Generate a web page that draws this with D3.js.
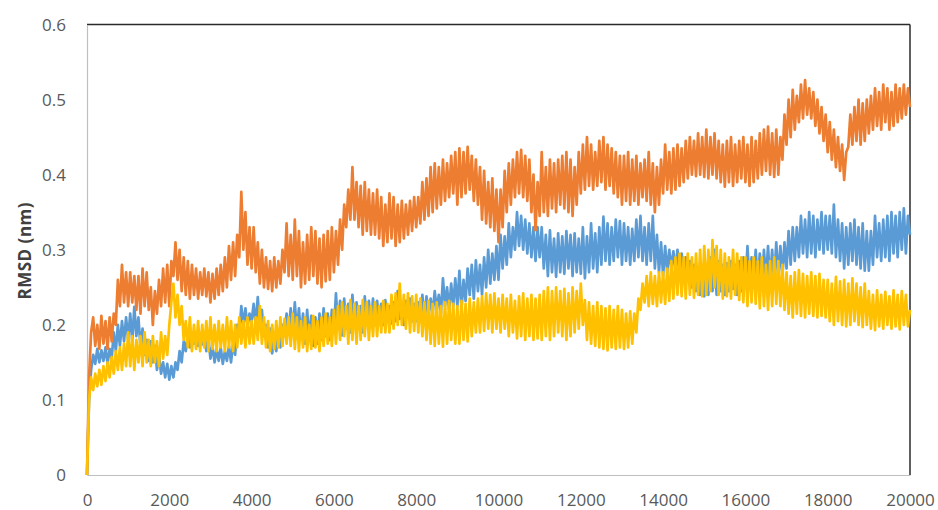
<!DOCTYPE html>
<html>
<head>
<meta charset="utf-8">
<script src="https://cdn.jsdelivr.net/npm/d3@7"></script>
<style>
  html, body { margin: 0; padding: 0; background: #ffffff; }
  svg { display: block; }
</style>
</head>
<body>
<svg id="chart" width="938" height="510"></svg>
<script>
// ---- data ----
const xTicks = [0, 2000, 4000, 6000, 8000, 10000, 12000, 14000, 16000, 18000, 20000];
const yTicks = [0, 0.1, 0.2, 0.3, 0.4, 0.5, 0.6];
const yTickLabels = ["0", "0.1", "0.2", "0.3", "0.4", "0.5", "0.6"];
const yTitle = "RMSD (nm)";
// sampling grid of the time axis (one value every 50 steps)
const times = d3.range(0, 20001, 50);

const blueValues = [
  0, 0.1, 0.14, 0.16, 0.148, 0.168, 0.15, 0.166, 0.152, 0.17, 0.148, 0.168, 0.155, 0.19, 0.165, 0.2, 0.172, 0.205, 0.178, 0.21,
  0.18, 0.215, 0.178, 0.224, 0.185, 0.21, 0.17, 0.195, 0.16, 0.18, 0.152, 0.178, 0.15, 0.172, 0.14, 0.16, 0.135, 0.15, 0.13, 0.148,
  0.127, 0.145, 0.13, 0.15, 0.14, 0.165, 0.15, 0.178, 0.165, 0.188, 0.17, 0.19, 0.175, 0.19, 0.172, 0.188, 0.174, 0.19, 0.165, 0.182,
  0.155, 0.172, 0.15, 0.168, 0.152, 0.17, 0.148, 0.165, 0.152, 0.172, 0.15, 0.175, 0.16, 0.2, 0.185, 0.225, 0.2, 0.222, 0.198, 0.215,
  0.205, 0.228, 0.2, 0.237, 0.198, 0.22, 0.185, 0.2, 0.17, 0.195, 0.162, 0.185, 0.165, 0.19, 0.17, 0.2, 0.185, 0.215, 0.19, 0.222,
  0.188, 0.23, 0.19, 0.222, 0.182, 0.215, 0.175, 0.22, 0.18, 0.212, 0.172, 0.21, 0.175, 0.215, 0.18, 0.222, 0.185, 0.215, 0.18, 0.22,
  0.19, 0.242, 0.195, 0.232, 0.186, 0.235, 0.195, 0.228, 0.19, 0.24, 0.2, 0.23, 0.195, 0.225, 0.19, 0.238, 0.2, 0.232, 0.198, 0.235,
  0.2, 0.232, 0.205, 0.228, 0.2, 0.233, 0.208, 0.225, 0.202, 0.23, 0.205, 0.245, 0.208, 0.228, 0.2, 0.232, 0.21, 0.235, 0.205, 0.228,
  0.205, 0.23, 0.21, 0.24, 0.206, 0.238, 0.212, 0.235, 0.215, 0.245, 0.22, 0.24, 0.215, 0.262, 0.225, 0.25, 0.22, 0.255, 0.225, 0.262,
  0.225, 0.272, 0.22, 0.26, 0.232, 0.275, 0.24, 0.28, 0.235, 0.286, 0.245, 0.28, 0.24, 0.29, 0.25, 0.3, 0.255, 0.295, 0.26, 0.305,
  0.26, 0.32, 0.275, 0.318, 0.28, 0.335, 0.29, 0.33, 0.3, 0.35, 0.305, 0.345, 0.3, 0.34, 0.295, 0.335, 0.29, 0.33, 0.285, 0.33,
  0.29, 0.33, 0.275, 0.32, 0.265, 0.326, 0.27, 0.315, 0.264, 0.322, 0.27, 0.318, 0.268, 0.325, 0.275, 0.32, 0.265, 0.322, 0.27, 0.315,
  0.268, 0.33, 0.262, 0.318, 0.27, 0.335, 0.275, 0.322, 0.27, 0.33, 0.28, 0.344, 0.285, 0.335, 0.28, 0.33, 0.285, 0.34, 0.29, 0.338,
  0.28, 0.335, 0.285, 0.33, 0.28, 0.328, 0.285, 0.34, 0.29, 0.345, 0.285, 0.33, 0.28, 0.335, 0.285, 0.345, 0.275, 0.32, 0.27, 0.31,
  0.265, 0.305, 0.27, 0.3, 0.275, 0.298, 0.272, 0.3, 0.27, 0.295, 0.268, 0.29, 0.26, 0.285, 0.25, 0.28, 0.245, 0.275, 0.24, 0.27,
  0.238, 0.27, 0.24, 0.29, 0.245, 0.3, 0.24, 0.285, 0.245, 0.28, 0.24, 0.282, 0.245, 0.285, 0.248, 0.28, 0.24, 0.285, 0.245, 0.29,
  0.25, 0.305, 0.255, 0.29, 0.25, 0.3, 0.255, 0.295, 0.25, 0.3, 0.26, 0.305, 0.255, 0.3, 0.258, 0.31, 0.262, 0.305, 0.265, 0.31,
  0.275, 0.325, 0.28, 0.33, 0.285, 0.33, 0.29, 0.345, 0.295, 0.34, 0.29, 0.35, 0.295, 0.345, 0.29, 0.34, 0.3, 0.35, 0.295, 0.345,
  0.3, 0.345, 0.295, 0.36, 0.29, 0.34, 0.285, 0.335, 0.275, 0.33, 0.28, 0.335, 0.285, 0.34, 0.28, 0.33, 0.275, 0.335, 0.272, 0.325,
  0.272, 0.325, 0.28, 0.345, 0.29, 0.335, 0.285, 0.34, 0.29, 0.345, 0.285, 0.35, 0.295, 0.345, 0.29, 0.35, 0.3, 0.355, 0.295, 0.345,
  0.32
];

const orangeValues = [
  0, 0.13, 0.19, 0.21, 0.172, 0.2, 0.168, 0.212, 0.175, 0.205, 0.168, 0.21, 0.178, 0.215, 0.2, 0.26, 0.225, 0.28, 0.23, 0.27,
  0.225, 0.27, 0.23, 0.265, 0.22, 0.265, 0.215, 0.275, 0.225, 0.27, 0.22, 0.25, 0.2, 0.245, 0.215, 0.26, 0.225, 0.275, 0.23, 0.28,
  0.225, 0.285, 0.265, 0.31, 0.26, 0.3, 0.245, 0.29, 0.24, 0.285, 0.235, 0.28, 0.24, 0.275, 0.235, 0.27, 0.24, 0.275, 0.238, 0.27,
  0.23, 0.268, 0.235, 0.275, 0.24, 0.28, 0.245, 0.29, 0.25, 0.305, 0.26, 0.31, 0.265, 0.32, 0.29, 0.377, 0.3, 0.35, 0.28, 0.33,
  0.275, 0.33, 0.27, 0.31, 0.255, 0.3, 0.25, 0.29, 0.248, 0.285, 0.245, 0.29, 0.25, 0.285, 0.255, 0.3, 0.27, 0.335, 0.265, 0.32,
  0.26, 0.34, 0.265, 0.325, 0.25, 0.31, 0.255, 0.32, 0.26, 0.33, 0.265, 0.325, 0.255, 0.315, 0.25, 0.32, 0.258, 0.325, 0.26, 0.33,
  0.27, 0.325, 0.28, 0.34, 0.3, 0.36, 0.33, 0.38, 0.34, 0.41, 0.34, 0.39, 0.33, 0.385, 0.32, 0.39, 0.325, 0.38, 0.32, 0.375,
  0.32, 0.38, 0.315, 0.37, 0.305, 0.36, 0.31, 0.375, 0.315, 0.37, 0.305, 0.36, 0.31, 0.365, 0.315, 0.36, 0.32, 0.365, 0.325, 0.37,
  0.33, 0.37, 0.335, 0.39, 0.34, 0.395, 0.345, 0.41, 0.35, 0.415, 0.355, 0.41, 0.36, 0.42, 0.365, 0.415, 0.37, 0.425, 0.375, 0.43,
  0.36, 0.435, 0.37, 0.43, 0.375, 0.437, 0.38, 0.425, 0.365, 0.42, 0.36, 0.41, 0.34, 0.405, 0.335, 0.39, 0.33, 0.395, 0.325, 0.38,
  0.31, 0.38, 0.33, 0.405, 0.35, 0.415, 0.36, 0.42, 0.37, 0.43, 0.375, 0.433, 0.37, 0.425, 0.365, 0.42, 0.35, 0.4, 0.326, 0.39,
  0.345, 0.43, 0.35, 0.41, 0.345, 0.42, 0.355, 0.415, 0.35, 0.42, 0.36, 0.425, 0.355, 0.43, 0.35, 0.42, 0.345, 0.41, 0.36, 0.43,
  0.375, 0.44, 0.38, 0.45, 0.385, 0.44, 0.38, 0.43, 0.385, 0.445, 0.39, 0.45, 0.38, 0.44, 0.385, 0.435, 0.375, 0.43, 0.37, 0.425,
  0.36, 0.425, 0.365, 0.43, 0.36, 0.42, 0.365, 0.425, 0.36, 0.415, 0.37, 0.42, 0.365, 0.43, 0.36, 0.415, 0.35, 0.41, 0.36, 0.42,
  0.375, 0.44, 0.38, 0.43, 0.375, 0.435, 0.38, 0.44, 0.385, 0.435, 0.39, 0.445, 0.395, 0.45, 0.4, 0.445, 0.398, 0.455, 0.4, 0.45,
  0.397, 0.46, 0.395, 0.45, 0.4, 0.455, 0.395, 0.445, 0.39, 0.44, 0.384, 0.445, 0.39, 0.45, 0.385, 0.44, 0.39, 0.445, 0.395, 0.45,
  0.39, 0.44, 0.385, 0.45, 0.39, 0.445, 0.395, 0.455, 0.4, 0.46, 0.405, 0.464, 0.4, 0.455, 0.397, 0.46, 0.4, 0.45, 0.42, 0.48,
  0.44, 0.5, 0.45, 0.513, 0.46, 0.505, 0.47, 0.52, 0.475, 0.526, 0.48, 0.515, 0.475, 0.51, 0.465, 0.5, 0.455, 0.49, 0.445, 0.48,
  0.43, 0.47, 0.42, 0.46, 0.41, 0.45, 0.405, 0.44, 0.393, 0.43, 0.437, 0.48, 0.44, 0.49, 0.445, 0.5, 0.44, 0.495, 0.445, 0.5,
  0.455, 0.505, 0.46, 0.515, 0.465, 0.51, 0.46, 0.52, 0.47, 0.515, 0.46, 0.51, 0.465, 0.52, 0.47, 0.515, 0.475, 0.52, 0.48, 0.515,
  0.49
];

const yellowValues = [
  0, 0.1, 0.13, 0.113, 0.135, 0.118, 0.14, 0.12, 0.145, 0.125, 0.15, 0.13, 0.157, 0.135, 0.165, 0.14, 0.17, 0.14, 0.175, 0.145,
  0.19, 0.145, 0.185, 0.14, 0.18, 0.15, 0.185, 0.145, 0.19, 0.15, 0.18, 0.145, 0.185, 0.15, 0.178, 0.145, 0.19, 0.155, 0.185, 0.16,
  0.2, 0.23, 0.255, 0.21, 0.24, 0.2, 0.225, 0.18, 0.205, 0.17, 0.21, 0.165, 0.2, 0.168, 0.205, 0.165, 0.2, 0.17, 0.205, 0.165,
  0.21, 0.168, 0.2, 0.165, 0.205, 0.17, 0.2, 0.165, 0.21, 0.17, 0.205, 0.165, 0.2, 0.17, 0.21, 0.175, 0.205, 0.17, 0.21, 0.175,
  0.205, 0.175, 0.21, 0.18, 0.225, 0.175, 0.21, 0.17, 0.205, 0.165, 0.2, 0.168, 0.205, 0.17, 0.21, 0.172, 0.208, 0.175, 0.21, 0.172,
  0.215, 0.168, 0.21, 0.165, 0.205, 0.17, 0.21, 0.165, 0.2, 0.168, 0.212, 0.17, 0.205, 0.165, 0.21, 0.172, 0.215, 0.175, 0.21, 0.172,
  0.22, 0.175, 0.225, 0.18, 0.23, 0.185, 0.225, 0.175, 0.233, 0.18, 0.228, 0.175, 0.225, 0.18, 0.233, 0.185, 0.23, 0.18, 0.225, 0.185,
  0.23, 0.185, 0.225, 0.19, 0.232, 0.19, 0.228, 0.19, 0.24, 0.195, 0.242, 0.2, 0.255, 0.2, 0.24, 0.195, 0.242, 0.19, 0.238, 0.192,
  0.24, 0.19, 0.235, 0.185, 0.23, 0.18, 0.232, 0.175, 0.228, 0.172, 0.23, 0.175, 0.225, 0.171, 0.23, 0.175, 0.232, 0.18, 0.228, 0.175,
  0.225, 0.175, 0.232, 0.18, 0.228, 0.178, 0.235, 0.185, 0.23, 0.19, 0.235, 0.19, 0.238, 0.192, 0.242, 0.195, 0.24, 0.19, 0.242, 0.195,
  0.235, 0.19, 0.24, 0.195, 0.235, 0.185, 0.24, 0.19, 0.232, 0.182, 0.238, 0.185, 0.242, 0.18, 0.235, 0.185, 0.24, 0.18, 0.235, 0.182,
  0.24, 0.18, 0.245, 0.185, 0.25, 0.18, 0.245, 0.185, 0.25, 0.19, 0.245, 0.185, 0.248, 0.18, 0.242, 0.185, 0.25, 0.19, 0.245, 0.195,
  0.255, 0.2, 0.233, 0.18, 0.23, 0.175, 0.225, 0.172, 0.23, 0.17, 0.225, 0.168, 0.222, 0.166, 0.225, 0.17, 0.22, 0.168, 0.225, 0.17,
  0.22, 0.168, 0.215, 0.17, 0.218, 0.175, 0.215, 0.19, 0.235, 0.22, 0.255, 0.23, 0.265, 0.225, 0.27, 0.228, 0.265, 0.225, 0.27, 0.23,
  0.27, 0.228, 0.275, 0.232, 0.285, 0.235, 0.29, 0.24, 0.295, 0.238, 0.29, 0.235, 0.295, 0.24, 0.29, 0.236, 0.295, 0.24, 0.3, 0.238,
  0.305, 0.24, 0.3, 0.245, 0.313, 0.25, 0.305, 0.24, 0.3, 0.235, 0.295, 0.238, 0.29, 0.235, 0.3, 0.24, 0.295, 0.233, 0.29, 0.23,
  0.29, 0.225, 0.285, 0.23, 0.29, 0.228, 0.285, 0.222, 0.29, 0.225, 0.28, 0.22, 0.285, 0.225, 0.29, 0.228, 0.285, 0.225, 0.28, 0.22,
  0.27, 0.215, 0.265, 0.21, 0.27, 0.215, 0.273, 0.212, 0.268, 0.21, 0.265, 0.215, 0.27, 0.212, 0.265, 0.21, 0.268, 0.212, 0.26, 0.21,
  0.26, 0.205, 0.255, 0.2, 0.264, 0.205, 0.258, 0.2, 0.26, 0.198, 0.255, 0.2, 0.262, 0.205, 0.255, 0.2, 0.25, 0.197, 0.255, 0.2,
  0.245, 0.195, 0.24, 0.193, 0.246, 0.198, 0.24, 0.195, 0.244, 0.2, 0.238, 0.195, 0.246, 0.198, 0.24, 0.194, 0.245, 0.2, 0.24, 0.198,
  0.22
];

const seriesColors = ["#5B9BD5", "#ED7D31", "#FFC000"];

// ---- layout ----
const W = 938, H = 510;
const margin = { left: 87, top: 24.5, right: 28, bottom: 35 };
const svg = d3.select("#chart");

const x = d3.scaleLinear().domain([0, 20000]).range([margin.left, W - margin.right]);
const y = d3.scaleLinear().domain([0, 0.6]).range([H - margin.bottom, margin.top]);

const series = [blueValues, orangeValues, yellowValues].map((vals, i) => ({
  color: seriesColors[i],
  points: times.map((t, j) => ({ t: t, v: vals[j] })).filter(p => p.v !== undefined)
}));

// plot frame: top & right dark, left & bottom light grey
svg.append("line")
  .attr("x1", x(0)).attr("x2", x(20000)).attr("y1", y(0.6)).attr("y2", y(0.6))
  .attr("stroke", "#2b2b2b").attr("stroke-width", 1.5);
svg.append("line")
  .attr("x1", x(20000)).attr("x2", x(20000)).attr("y1", y(0.6)).attr("y2", y(0))
  .attr("stroke", "#2b2b2b").attr("stroke-width", 1.5);

// axes
const xAxis = d3.axisBottom(x).tickValues(xTicks).tickSize(0).tickFormat(d3.format("d"));
const yAxis = d3.axisLeft(y).tickValues(yTicks).tickSize(0).tickFormat((d, i) => yTickLabels[i]);

const gx = svg.append("g").attr("transform", `translate(0,${y(0)})`).call(xAxis);
const gy = svg.append("g").attr("transform", `translate(${x(0)},0)`).call(yAxis);

[gx, gy].forEach(g => {
  g.select(".domain").attr("stroke", "#bfbfbf").attr("stroke-width", 1.2);
  g.selectAll("text")
    .attr("fill", "#595959")
    .style("font-family", "'Open Sans', 'Liberation Sans', sans-serif")
    .style("font-size", "17px");
});
gx.selectAll("text").attr("dy", null).attr("y", 31);
gy.selectAll("text").attr("x", -21).attr("dy", "0.35em");

// y title
svg.append("text")
  .attr("transform", `translate(24,${(y(0) + y(0.6)) / 2 + 1}) rotate(-90)`)
  .attr("text-anchor", "middle")
  .attr("dominant-baseline", "central")
  .attr("fill", "#404040")
  .style("font-family", "'Open Sans', 'Liberation Sans', sans-serif")
  .style("font-weight", "bold")
  .style("font-size", "17px")
  .style("letter-spacing", "0.5px")
  .text(yTitle);

// series lines
const line = d3.line().x(d => x(d.t)).y(d => y(d.v));
svg.append("g").selectAll("path")
  .data(series)
  .join("path")
  .attr("d", d => line(d.points))
  .attr("fill", "none")
  .attr("stroke", d => d.color)
  .attr("stroke-width", 2.7)
  .attr("stroke-linejoin", "round");
</script>
</body>
</html>
